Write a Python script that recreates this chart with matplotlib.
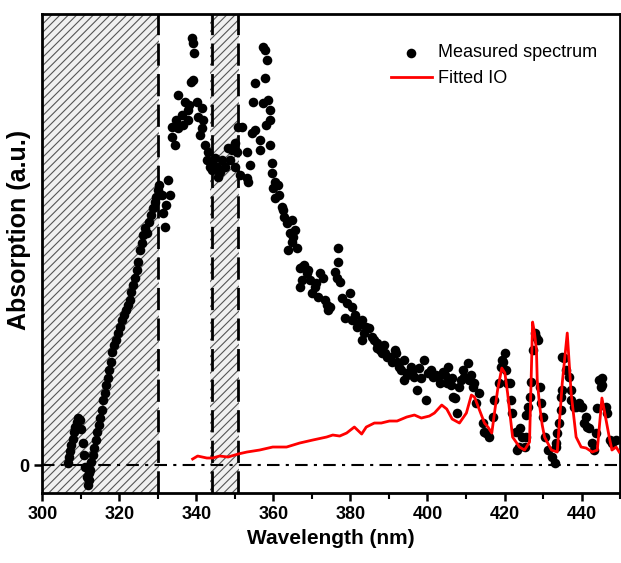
import matplotlib.pyplot as plt
from matplotlib.ticker import MultipleLocator

plt.rcParams['font.family'] = ['Liberation Sans', 'DejaVu Sans']
plt.rcParams['hatch.linewidth'] = 0.8

# measured spectrum (nm, a.u.)
meas_wl = [
    306.6, 306.9, 307.2, 307.5, 307.8, 308.1, 308.5, 308.9, 309.3, 309.7, 310.0, 310.5, 310.9, 311.1, 311.5, 311.8, 312.1,
    312.1, 312.4, 312.6, 313.1, 313.4, 313.9, 314.2, 314.7, 314.9, 315.5, 315.7, 316.2, 316.5, 317.0, 317.3, 317.8,
    318.0, 318.6, 319.1, 319.6, 320.1, 320.6, 321.1, 321.6, 322.2, 322.7, 322.9, 323.5, 324.0, 324.5, 324.7, 325.3,
    325.8, 326.0, 326.6, 327.1, 327.6, 328.1, 328.6, 329.1, 329.6, 329.9, 330.2,
    331.0, 331.3, 331.8, 332.1, 332.6, 333.1,
    333.6, 333.6, 334.4, 335.2, 335.2, 336.2, 337.0, 337.7, 337.7, 338.5, 339.0, 338.8, 339.0, 339.3, 340.1, 340.3,
    341.4, 341.4, 341.6, 342.1, 342.7, 342.9, 343.4, 344.0, 344.7, 345.5, 346.0, 346.5, 347.3, 348.1, 348.6, 349.1,
    349.9, 349.9, 350.5, 350.7, 351.2, 351.9, 353.0, 353.1, 353.3, 353.8, 354.4, 354.6, 355.1, 355.1, 356.4, 356.4,
    357.2, 357.2, 357.7, 357.7, 358.0, 358.2, 358.5, 359.0, 359.0, 359.0,
    334.8, 336.5, 338.0, 340.8, 343.7, 345.2,
    359.5, 359.5, 359.8, 360.3, 361.1, 360.3, 362.1, 362.4, 363.4, 363.7, 364.2, 364.7, 364.9, 365.5, 366.0, 366.8,
    366.8, 367.3, 367.5, 368.6, 369.4, 370.7, 371.5, 372.0, 372.8, 373.3, 374.1, 374.6, 375.9, 376.4, 376.7, 376.7,
    377.2, 377.7, 378.5, 379.0, 379.8, 380.3, 380.5, 382.3, 382.9, 383.1, 384.1, 384.9,
    361.5, 362.8, 365.0, 367.9, 369.0, 370.0, 371.0, 373.8,
    386.2, 387.0, 388.8, 388.3, 389.6, 390.9, 391.5, 391.9, 392.7, 393.9, 394.0, 395.3, 395.8, 396.5, 397.4, 397.9,
    398.4, 399.2, 399.7, 401.0, 401.3, 402.3, 403.2, 403.9, 405.0, 405.2, 406.3, 406.6, 407.1, 407.6, 408.3, 409.6,
    410.4, 410.9,
    381.2, 381.7, 383.6, 385.5, 386.8, 387.6, 389.0, 390.3, 392.2, 393.0, 394.8, 396.0,
    400.2, 402.8, 404.5, 406.0, 408.8, 409.2,
    411.4, 411.7, 412.2, 413.5, 412.7, 414.3, 414.8, 415.3, 416.1, 416.9, 417.4, 418.7, 419.2, 419.4, 419.5, 420.0,
    420.5, 420.7, 421.3, 421.8, 422.0, 423.1, 423.3, 423.8, 423.9, 424.6, 425.2, 425.7, 425.7, 426.0, 426.5, 427.0,
    427.3, 427.8, 428.3, 428.6, 429.1, 429.6, 429.9, 430.4, 431.2, 432.4, 433.0, 433.5, 433.5, 433.7, 434.2, 434.8,
    434.8, 435.0, 435.0, 435.5, 436.1, 436.8, 437.3, 437.4, 438.1, 438.6, 439.4, 439.9, 440.2, 440.7, 441.2, 441.5,
    442.0, 442.8, 443.3, 443.8, 444.1, 444.6, 445.1, 445.3, 445.3, 446.4, 446.7, 447.3, 448.0, 449.0,
]
meas_ab = [
    0.02, 0.08, 0.14, 0.20, 0.26, 0.33, 0.38, 0.43, 0.47, 0.45, 0.36, 0.22, 0.10, -0.02, -0.12, -0.20, -0.15,
    -0.08, -0.05, 0.03, 0.10, 0.17, 0.25, 0.33, 0.40, 0.47, 0.55, 0.65, 0.72, 0.80, 0.87, 0.95, 1.03,
    1.13, 1.20, 1.25, 1.32, 1.38, 1.45, 1.50, 1.55, 1.60, 1.65, 1.73, 1.80, 1.87, 1.95, 2.03, 2.15,
    2.22, 2.30, 2.37, 2.32, 2.43, 2.50, 2.57, 2.63, 2.68, 2.75, 2.80,
    2.70, 2.52, 2.38, 2.60, 2.85, 2.70,
    3.38, 3.28, 3.20, 3.70, 3.37, 3.50, 3.63, 3.55, 3.45, 3.83, 3.85, 4.27, 4.22, 4.12, 3.63, 3.48,
    3.57, 3.37, 3.45, 3.20, 3.05, 3.13, 2.98, 2.95, 3.07, 2.88, 2.93, 3.05, 2.98, 3.17, 3.05, 3.15,
    3.22, 2.98, 3.13, 3.38, 2.90, 3.38, 3.13, 2.87, 2.83, 3.00, 3.32, 3.63, 3.35, 3.82, 3.25, 3.15,
    3.62, 4.18, 4.15, 3.87, 3.40, 4.05, 3.65, 3.55, 3.20, 3.45,
    3.45, 3.40, 3.60, 3.30, 3.02, 2.98,
    3.02, 2.92, 2.77, 2.83, 2.80, 2.67, 2.58, 2.55, 2.42, 2.15, 2.32, 2.23, 2.45, 2.35, 2.17, 1.97,
    1.78, 1.85, 1.98, 1.92, 1.85, 1.78, 1.68, 1.92, 1.87, 1.65, 1.55, 1.58, 1.93, 1.87, 2.17, 2.03,
    1.83, 1.67, 1.47, 1.62, 1.72, 1.58, 1.45, 1.42, 1.45, 1.25, 1.38, 1.37,
    2.70, 2.48, 2.28, 2.00, 1.95, 1.72, 1.82, 1.60,
    1.25, 1.17, 1.20, 1.12, 1.08, 1.03, 1.15, 1.12, 0.98, 0.85, 1.05, 0.93, 0.98, 0.88, 0.75, 0.97,
    0.87, 1.05, 0.65, 0.95, 0.88, 0.90, 0.82, 0.93, 0.82, 0.98, 0.87, 0.68, 0.67, 0.52, 0.78, 0.88,
    1.02, 0.85,
    1.50, 1.38, 1.32, 1.28, 1.22, 1.15, 1.12, 1.08, 1.03, 0.95, 0.90, 0.92,
    0.92, 0.88, 0.90, 0.80, 0.85, 0.95,
    0.90, 0.78, 0.82, 0.72, 0.62, 0.42, 0.33, 0.32, 0.28, 0.48, 0.65, 0.82, 0.98, 1.05, 1.03, 1.12,
    0.95, 0.82, 0.82, 0.65, 0.52, 0.33, 0.15, 0.18, 0.37, 0.28, 0.18, 0.28, 0.50, 0.58, 0.68, 0.83,
    1.15, 1.32, 1.28, 1.25, 0.78, 0.62, 0.48, 0.28, 0.15, 0.08, 0.02, 0.22, 0.18, 0.32, 0.42, 0.55,
    0.68, 0.75, 1.08, 1.07, 0.95, 0.88, 0.75, 0.65, 0.58, 0.58, 0.62, 0.58, 0.58, 0.42, 0.48, 0.38,
    0.37, 0.22, 0.15, 0.32, 0.57, 0.85, 0.78, 0.87, 0.80, 0.58, 0.52, 0.25, 0.22, 0.25,
]

# fitted IO curve
fit_wl = [
    339.0, 340.3, 342.7, 344.2, 346.0, 348.2, 350.8, 353.1, 356.4, 359.8, 363.4, 366.8, 370.2, 373.8, 375.4, 377.2,
    379.0, 381.0, 382.9, 384.1, 386.2, 388.0, 390.1, 392.1, 394.6, 396.6, 398.4, 400.5, 401.8, 403.7, 405.0, 406.4,
    408.3, 410.1, 411.4, 412.2, 413.5, 414.8, 415.7, 416.7, 418.2, 419.3, 420.1, 420.8, 422.1, 423.9, 425.2, 426.5,
    427.3, 427.8, 428.3, 428.5, 429.1, 429.8, 430.4, 431.5, 432.2, 433.7, 435.0, 436.3, 437.3, 438.6, 439.9, 441.2,
    442.8, 444.1, 445.3, 445.9, 447.2, 447.9, 449.0, 449.8,
]
fit_ab = [
    0.06, 0.09, 0.07, 0.07, 0.09, 0.08, 0.11, 0.13, 0.15, 0.18, 0.18, 0.22, 0.25, 0.28, 0.30, 0.29,
    0.32, 0.38, 0.31, 0.38, 0.42, 0.42, 0.44, 0.44, 0.48, 0.50, 0.47, 0.49, 0.52, 0.60, 0.56, 0.46,
    0.42, 0.52, 0.70, 0.68, 0.55, 0.42, 0.38, 0.32, 0.75, 0.97, 0.92, 0.72, 0.28, 0.18, 0.15, 0.23,
    1.43, 1.32, 1.15, 0.85, 0.60, 0.40, 0.28, 0.20, 0.15, 0.13, 0.82, 1.32, 0.72, 0.28, 0.18, 0.17,
    0.13, 0.15, 0.67, 0.55, 0.28, 0.15, 0.18, 0.13,
]

# excluded regions and their borders
spans = [(300, 330.3), (343.5, 351.0)]
borders = [330.0, 344.0, 350.8]

fig = plt.figure(figsize=(6.21, 5.63), dpi=100)
ax = fig.add_axes([0.0684, 0.1243, 0.93, 0.8507])

for x0, x1 in spans:
    ax.axvspan(x0, x1, facecolor='#f0f0f0', edgecolor='#555555', hatch='////', linewidth=0, zorder=0)
for b in borders:
    ax.axvline(b, color='black', linewidth=2, dashes=(8, 3), zorder=1)
ax.axhline(0, color='black', linewidth=1.5, linestyle=(0, (6, 3, 1.5, 3)), zorder=1)

ax.scatter(meas_wl, meas_ab, s=48, color='black', linewidths=0, zorder=2, label='Measured spectrum')
ax.plot(fit_wl, fit_ab, color='red', linewidth=2, zorder=3, label='Fitted IO')

ax.set_xlim(300, 450)
ax.set_ylim(-0.28, 4.51)
ax.xaxis.set_major_locator(MultipleLocator(20))
ax.xaxis.set_minor_locator(MultipleLocator(10))
ax.set_yticks([0])
ax.tick_params(axis='both', which='major', direction='out', length=6, width=1.8, labelsize=13)
ax.tick_params(axis='x', which='minor', direction='out', length=4, width=1.5)
for lab in ax.get_xticklabels() + ax.get_yticklabels():
    lab.set_fontweight('bold')
for sp in ax.spines.values():
    sp.set_linewidth(2)

ax.set_xlabel('Wavelength (nm)', fontsize=15, fontweight='bold')
ax.set_ylabel('Absorption (a.u.)', fontsize=18, fontweight='bold')
ax.yaxis.set_label_coords(-0.02, 0.55)

ax.legend(loc='upper right', frameon=False, fontsize=13, handlelength=2.3, handletextpad=0.35,
          bbox_to_anchor=(0.983, 0.963), borderaxespad=0.3)

fig.savefig('out.png', dpi=100)
